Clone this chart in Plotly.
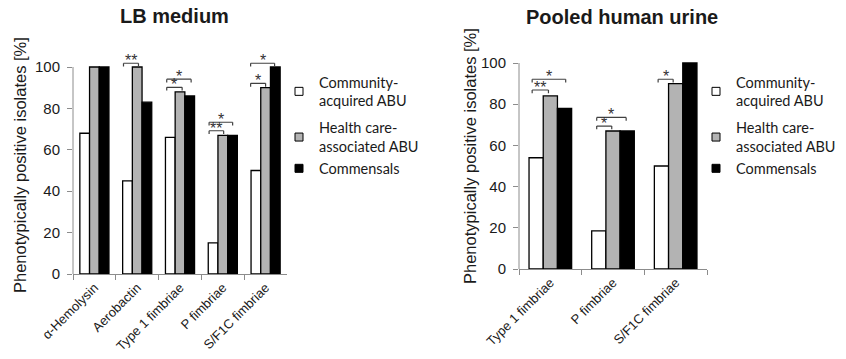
import plotly.graph_objects as go

W, H = 846, 359

# ---------------- data ----------------
lb_categories = ["α-Hemolysin", "Aerobactin", "Type 1 fimbriae", "P fimbriae", "S/F1C fimbriae"]
lb_community = [68, 45, 66, 15, 50]
lb_healthcare = [100, 100, 88, 67, 90]
lb_commensals = [100, 83, 86, 67, 100]

urine_categories = ["Type 1 fimbriae", "P fimbriae", "S/F1C fimbriae"]
urine_community = [54, 18.5, 50]
urine_healthcare = [84, 67, 90]
urine_commensals = [78, 67, 100]

series_names = ["Community-<br>acquired ABU", "Health care-<br>associated ABU", "Commensals"]
series_colors = ["white", "#b3b3b3", "black"]
legend_groups = ["g1", "g2", "g2"]

y_tick_values = [0, 20, 40, 60, 80, 100]

# significance brackets: (category index, height in %, left offset, right offset, label)
lb_brackets = [
    (1, 101.8, -0.32, 0.03, "**"),
    (2, 90.2, -0.31, 0.05, "*"),
    (2, 94.1, -0.31, 0.26, "*"),
    (3, 69.2, -0.32, 0.02, "**"),
    (3, 73.3, -0.32, 0.23, "*"),
    (4, 92.1, -0.35, 0.00, "*"),
    (4, 101.8, -0.35, 0.21, "*"),
]
urine_brackets = [
    (0, 86.9, -0.29, -0.03, "**"),
    (0, 92.1, -0.29, 0.245, "*"),
    (1, 69.4, -0.26, -0.02, "*"),
    (1, 73.6, -0.26, 0.21, "*"),
    (2, 92.1, -0.28, -0.04, "*"),
]

# ---------------- figure ----------------
AX_FONT = "Liberation Sans, Arial, sans-serif"
LEG_FONT = "Lato, Carlito, sans-serif"
AXIS_GRAY = "#8c8c8c"

fig = go.Figure()

panels = [
    (lb_categories, [lb_community, lb_healthcare, lb_commensals], "x", "y", "legend", "L"),
    (urine_categories, [urine_community, urine_healthcare, urine_commensals], "x2", "y2", "legend2", "R"),
]
for cats, series, xa, ya, leg, tag in panels:
    for vals, name, color in zip(series, series_names, series_colors):
        fig.add_trace(go.Bar(
            x=cats, y=vals, name=name, xaxis=xa, yaxis=ya, showlegend=False,
            marker=dict(color=color, line=dict(color="black", width=1.3)),
        ))
    for name, color, grp in zip(series_names, series_colors, legend_groups):
        fig.add_trace(go.Scatter(
            x=[None], y=[None], mode="markers", name=name, xaxis=xa, yaxis=ya,
            legend=leg, legendgroup=tag + grp,
            marker=dict(symbol="square", size=8, color=color,
                        line=dict(color="black", width=1)),
        ))


def add_brackets(brackets, xref, yref):
    tick = 1.6
    for cat, h, lo, hi, label in brackets:
        x0, x1 = cat + lo, cat + hi
        for xa_, ya_, xb_, yb_ in [(x0, h - tick, x0, h), (x0, h, x1, h), (x1, h, x1, h - tick)]:
            fig.add_shape(type="line", xref=xref, yref=yref, x0=xa_, y0=ya_, x1=xb_, y1=yb_,
                          line=dict(color="#404040", width=1.2))
        fig.add_annotation(x=(x0 + x1) / 2, y=h, xref=xref, yref=yref, text=label,
                           showarrow=False, yanchor="bottom", yshift=-8,
                           font=dict(family=AX_FONT, size=16, color="#333333"))


add_brackets(lb_brackets, "x", "y")
add_brackets(urine_brackets, "x2", "y2")

# manual y-axis lines ending at 100
left_dom = [73 / W, 287 / W]
right_dom = [519 / W, 707 / W]
for dom, yref in [(left_dom, "y"), (right_dom, "y2")]:
    fig.add_shape(type="line", xref="paper", yref=yref, x0=dom[0], x1=dom[0], y0=0, y1=100,
                  line=dict(color=AXIS_GRAY, width=1))


def xaxis_style(dom):
    return dict(domain=dom, type="category", tickson="boundaries", ticks="outside",
                ticklen=5, tickcolor=AXIS_GRAY, showline=True, linecolor=AXIS_GRAY,
                linewidth=1, tickangle=-45, showgrid=False, automargin=False,
                tickfont=dict(family=AX_FONT, size=13, color="#1a1a1a"))


def yaxis_style(dom, anchor):
    return dict(domain=dom, range=[0, 103], tickvals=y_tick_values, ticks="outside",
                ticklen=5, tickcolor=AXIS_GRAY, showline=False, showgrid=False,
                zeroline=False, anchor=anchor, ticklabelstandoff=4, automargin=False,
                tickfont=dict(family=AX_FONT, size=15, color="#1a1a1a"))


legend_font = dict(family=LEG_FONT, size=14.5, color="#1a1a1a")
fig.update_layout(
    width=W, height=H, margin=dict(l=0, r=0, t=0, b=0, autoexpand=False),
    plot_bgcolor="white", paper_bgcolor="white",
    barmode="group", bargap=0.32, bargroupgap=0,
    xaxis=xaxis_style(left_dom) | dict(anchor="y"),
    yaxis=yaxis_style([(H - 274) / H, (H - 274 + 103 * 2.07) / H], "x"),
    xaxis2=xaxis_style(right_dom) | dict(anchor="y2"),
    yaxis2=yaxis_style([(H - 269) / H, (H - 269 + 103 * 2.06) / H], "x2"),
    legend=dict(x=279 / W, y=1 - 66 / H, xanchor="left", yanchor="top",
                bgcolor="rgba(0,0,0,0)", font=legend_font, valign="middle",
                tracegroupgap=5),
    legend2=dict(x=696 / W, y=1 - 66 / H, xanchor="left", yanchor="top",
                 bgcolor="rgba(0,0,0,0)", font=legend_font, valign="middle",
                 tracegroupgap=5),
)

title_font = dict(family=AX_FONT, size=20, color="#1a1a1a")
fig.add_annotation(x=174.5 / W, y=1 - 16 / H, xref="paper", yref="paper", text="<b>LB medium</b>",
                   showarrow=False, xanchor="center", yanchor="middle", font=title_font)
fig.add_annotation(x=621.5 / W, y=1 - 17 / H, xref="paper", yref="paper",
                   text="<b>Pooled human urine</b>",
                   showarrow=False, xanchor="center", yanchor="middle", font=title_font)

ytitle_font = dict(family=AX_FONT, size=16.5, color="#1a1a1a")
for xpix, ypix in [(20, 165), (470, 156)]:
    fig.add_annotation(x=xpix / W, y=1 - ypix / H, xref="paper", yref="paper",
                       text="Phenotypically positive isolates [%]", textangle=-90,
                       showarrow=False, xanchor="center", yanchor="middle", font=ytitle_font)

fig.write_html("out.html", config={"displayModeBar": False},
               post_script="document.body.style.margin='0';")
